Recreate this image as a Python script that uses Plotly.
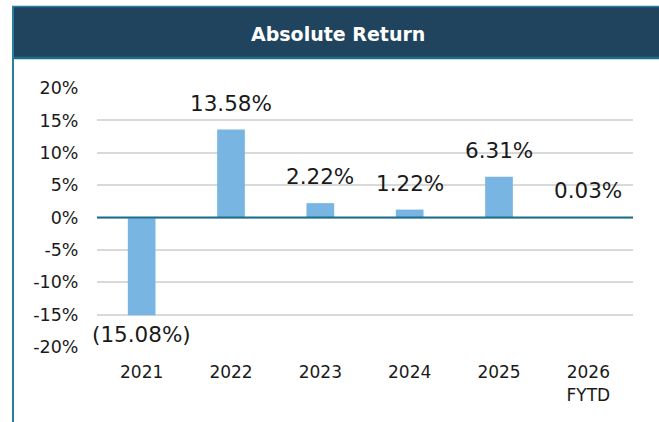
import plotly.graph_objects as go

years = ['2021', '2022', '2023', '2024', '2025', '2026<br>FYTD']
returns = [-15.08, 13.58, 2.22, 1.22, 6.31, 0.03]
y_ticks = [20, 15, 10, 5, 0, -5, -10, -15, -20]
y_tick_text = [str(t) + '%' for t in y_ticks]

W, H = 659, 422
L, R, T, B = 97, 26, 88, 75
pw, ph = W - L - R, H - T - B

def px_x(x):
    return (x - L) / pw

def px_y(y):
    return (H - B - y) / ph

def fmt(v):
    return '({:.2f}%)'.format(-v) if v < 0 else '{:.2f}%'.format(v)

font_name = 'DejaVu Sans'
navy = '#20445e'
teal = '#1b6f8e'
pos = list(range(len(years)))

fig = go.Figure()
fig.add_trace(go.Bar(x=pos, y=returns, width=0.31, marker_color='#79b5e2',
                     marker_line_width=0, hoverinfo='skip'))

for p, v in zip(pos, returns):
    fig.add_annotation(x=p, y=v, xref='x', yref='y', text=fmt(v), showarrow=False,
                       xanchor='center',
                       yanchor='bottom' if v >= 0 else 'top',
                       yshift=12 if v >= 0 else -5,
                       font=dict(family=font_name, size=21.5, color='#1a1a1a'))

# header band and border lines
fig.add_shape(type='rect', xref='paper', yref='paper', x0=px_x(12), x1=px_x(W + 2),
              y0=px_y(59), y1=px_y(6), fillcolor=navy, line=dict(width=0), layer='below')
fig.add_shape(type='line', xref='paper', yref='paper', x0=px_x(12), x1=px_x(W + 2),
              y0=px_y(58), y1=px_y(58), line=dict(color=teal, width=2.5))
fig.add_shape(type='line', xref='paper', yref='paper', x0=px_x(12), x1=px_x(W + 2),
              y0=px_y(6.5), y1=px_y(6.5), line=dict(color='#2a7d9c', width=1.5))
fig.add_shape(type='line', xref='paper', yref='paper', x0=px_x(13), x1=px_x(13),
              y0=px_y(H + 2), y1=px_y(6), line=dict(color='#2a7d9c', width=2))
fig.add_shape(type='line', xref='paper', yref='y', x0=0, x1=1, y0=0, y1=0,
              line=dict(color=teal, width=2))

fig.add_annotation(xref='paper', yref='paper', x=px_x(338), y=px_y(34),
                   xanchor='center', yanchor='middle',
                   text='<b>Absolute Return</b>', showarrow=False,
                   font=dict(family=font_name, size=19, color='white'))

fig.update_xaxes(range=[-0.5, len(years) - 0.5], tickvals=pos, ticktext=years,
                 showgrid=False, zeroline=False, ticks='outside', ticklen=0,
                 tickcolor='rgba(0,0,0,0)', ticklabelstandoff=10, showline=False,
                 tickfont=dict(family=font_name, size=17, color='#1a1a1a'))
fig.update_yaxes(range=[-20, 20], tickvals=y_ticks, ticktext=y_tick_text,
                 showgrid=True, gridcolor='#d9d9d9', gridwidth=2, zeroline=False,
                 ticks='outside', ticklen=0, tickcolor='rgba(0,0,0,0)',
                 ticklabelstandoff=14,
                 tickfont=dict(family=font_name, size=17.5, color='#1a1a1a'))

fig.update_layout(width=W, height=H, margin=dict(l=L, r=R, t=T, b=B),
                  plot_bgcolor='white', paper_bgcolor='white', showlegend=False)

fig.write_html('out.html', config={'displayModeBar': False},
               post_script="document.body.style.margin='0';")
